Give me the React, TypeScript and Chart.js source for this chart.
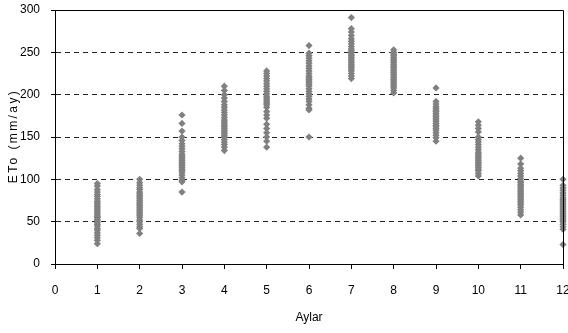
import React, { useEffect, useRef } from "react";
import { Chart, registerables } from "chart.js";

Chart.register(...registerables);

const months = [1, 2, 3, 4, 5, 6, 7, 8, 9, 10, 11, 12];
const yTicks = [0, 50, 100, 150, 200, 250, 300];
const xTitle = "Aylar";
const yTitle = "ETo (mm/ay)";

const eto1 = [95, 92, 88, 85, 82, 80, 77, 74, 72, 70, 68, 66, 64, 62, 60, 58, 56, 55, 53, 51, 49, 47, 45, 42, 40, 37, 34, 31, 28, 24];
const eto2 = [100, 96, 93, 90, 88, 85, 83, 81, 79, 77, 75, 73, 71, 69, 67, 65, 63, 61, 59, 57, 55, 52, 50, 47, 44, 42, 36];
const eto3 = [176, 166, 157, 150, 146, 142, 139, 136, 133, 130, 128, 126, 124, 122, 120, 118, 116, 114, 112, 110, 108, 105, 102, 99, 97, 85];
const eto4 = [210, 205, 200, 196, 192, 188, 185, 182, 179, 176, 173, 170, 168, 166, 164, 162, 160, 158, 156, 154, 152, 150, 147, 144, 141, 138, 134];
const eto5 = [228, 225, 222, 219, 216, 213, 210, 207, 204, 201, 198, 196, 194, 192, 190, 188, 185, 180, 176, 172, 165, 160, 155, 150, 145, 138];
const eto6 = [258, 249, 246, 243, 240, 237, 234, 231, 228, 225, 222, 220, 218, 216, 214, 212, 210, 207, 204, 201, 198, 195, 192, 188, 184, 182, 150];
const eto7 = [291, 278, 274, 270, 266, 263, 260, 257, 254, 252, 250, 248, 246, 244, 242, 240, 238, 236, 234, 232, 230, 228, 225, 222, 219];
const eto8 = [253, 250, 248, 246, 244, 242, 240, 238, 236, 234, 232, 230, 228, 226, 224, 222, 220, 218, 216, 214, 212, 210, 208, 205, 202];
const eto9 = [208, 192, 189, 186, 184, 182, 180, 178, 176, 174, 172, 170, 168, 166, 164, 162, 160, 158, 155, 152, 149, 145];
const eto10 = [168, 164, 160, 156, 150, 147, 144, 141, 138, 135, 132, 130, 128, 126, 124, 122, 120, 118, 116, 114, 112, 110, 107, 104];
const eto11 = [125, 118, 113, 110, 107, 104, 101, 98, 96, 94, 92, 90, 88, 86, 84, 82, 80, 78, 76, 74, 72, 70, 67, 64, 61, 58];
const eto12 = [100, 93, 90, 87, 84, 81, 78, 76, 74, 72, 70, 68, 66, 64, 62, 60, 58, 56, 54, 52, 50, 47, 44, 41, 23];

const etoByMonth = [eto1, eto2, eto3, eto4, eto5, eto6, eto7, eto8, eto9, eto10, eto11, eto12];

const frame = {
  id: "frame",
  afterDatasetsDraw(chart: any) {
    const { ctx, chartArea } = chart;
    ctx.save();
    ctx.strokeStyle = "#000";
    ctx.lineWidth = 1;
    ctx.beginPath();
    ctx.moveTo(chartArea.left, chartArea.top + 0.5);
    ctx.lineTo(chartArea.right + 0.5, chartArea.top + 0.5);
    ctx.lineTo(chartArea.right + 0.5, chartArea.bottom);
    ctx.stroke();
    ctx.restore();
  },
  afterDraw(chart: any) {
    const { ctx, chartArea } = chart;
    ctx.save();
    ctx.translate(14, (chartArea.top + chartArea.bottom) / 2);
    ctx.rotate(-Math.PI / 2);
    ctx.font = "12px 'Liberation Sans', Arial, sans-serif";
    (ctx as any).letterSpacing = "2.4px";
    ctx.fillStyle = "#000";
    ctx.textAlign = "center";
    ctx.textBaseline = "middle";
    ctx.fillText(yTitle, 1, 0);
    ctx.restore();
  },
};

export default function App() {
  const ref = useRef<HTMLCanvasElement>(null);
  useEffect(() => {
    document.body.style.margin = "0";
    const points: { x: number; y: number }[] = [];
    months.forEach((m, i) => etoByMonth[i].forEach((v) => points.push({ x: m, y: v })));
    const labelFont = { family: "'Liberation Sans Narrow', 'Liberation Sans', Arial, sans-serif", size: 12 };
    const chart = new Chart(ref.current!, {
      type: "scatter",
      data: {
        datasets: [
          {
            data: points,
            pointStyle: "rectRot",
            pointRadius: 3.6,
            backgroundColor: "#808080",
            borderColor: "#808080",
            borderWidth: 0,
            clip: false as any,
          },
        ],
      },
      options: {
        responsive: false,
        animation: false,
        layout: { padding: { top: 10, right: 5, left: 0, bottom: 0 } },
        plugins: { legend: { display: false }, tooltip: { enabled: false } },
        scales: {
          x: {
            type: "linear",
            min: 0,
            max: 12,
            afterFit: (s: any) => {
              s.height = 69;
              s.paddingLeft = 0;
              s.paddingRight = 0;
            },
            afterBuildTicks: (s: any) => {
              s.ticks = [0, ...months].map((v) => ({ value: v }));
            },
            ticks: { color: "#000", font: labelFont, padding: 14, maxRotation: 0, autoSkip: false },
            grid: { drawOnChartArea: false, drawTicks: true, tickLength: 5, tickColor: "#000" },
            border: { color: "#000", width: 1 },
            title: { display: true, text: xTitle, color: "#000", font: { family: "'Liberation Sans', Arial, sans-serif", size: 12 }, padding: { top: 0, bottom: 8 } },
          },
          y: {
            type: "linear",
            min: 0,
            max: 300,
            afterFit: (s: any) => {
              s.width = 55;
              s.paddingTop = 0;
              s.paddingBottom = 0;
            },
            afterBuildTicks: (s: any) => {
              s.ticks = yTicks.map((v) => ({ value: v }));
            },
            ticks: { color: "#000", font: labelFont, padding: 11 },
            grid: {
              color: (c: any) => (c.tick && (c.tick.value === 0 || c.tick.value === 300) ? "rgba(0,0,0,0)" : "#222"),
              drawTicks: true,
              tickLength: 4,
              tickColor: "#000",
            },
            border: { color: "#000", width: 1, dash: [5, 4] },
            title: { display: false },
          },
        },
      },
      plugins: [frame],
    } as any);
    return () => chart.destroy();
  }, []);
  return (
    <div style={{ position: "absolute", left: 0, top: 0, width: 568, height: 333, background: "#fff" }}>
      <canvas ref={ref} width={568} height={333} />
    </div>
  );
}
